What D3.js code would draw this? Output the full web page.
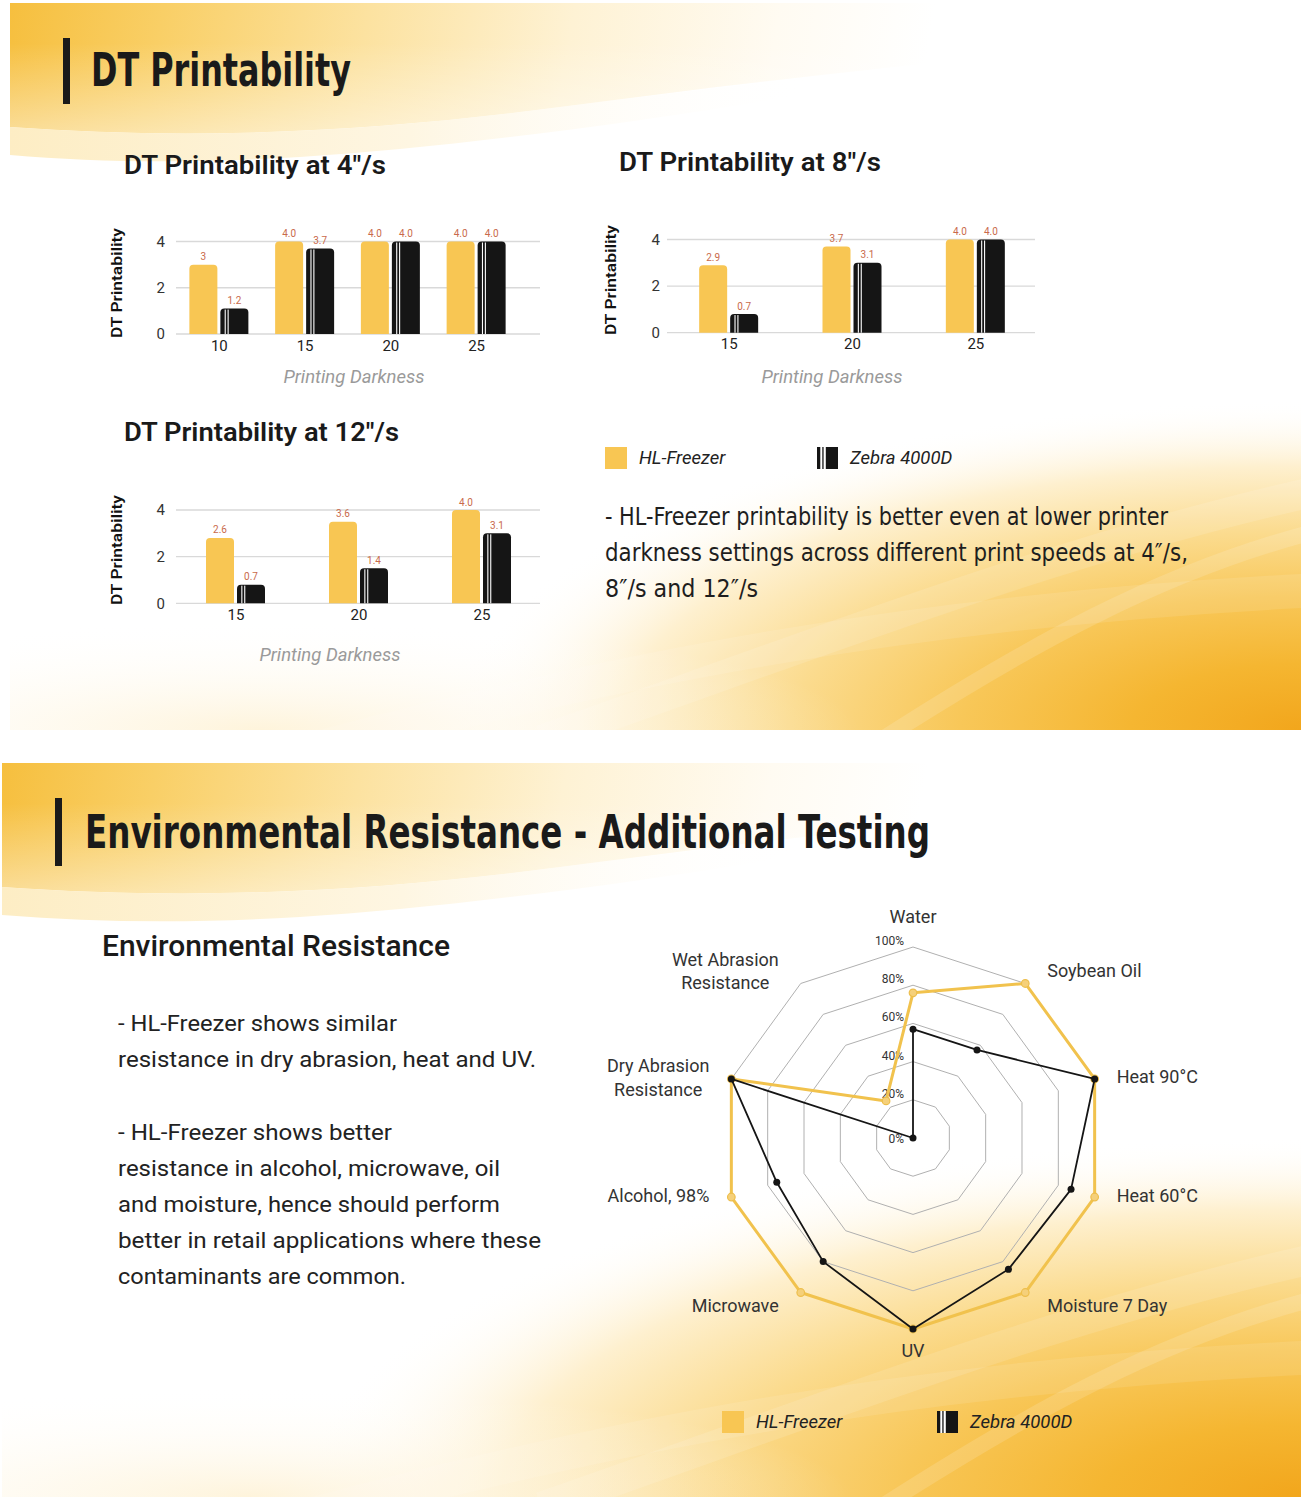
<!DOCTYPE html>
<html><head><meta charset="utf-8">
<script src="https://cdn.jsdelivr.net/npm/d3@7"></script>
<style>html,body{margin:0;padding:0;background:#fff;} svg{display:block;}</style>
</head><body>
<svg id="chart" width="1309" height="1500" xmlns="http://www.w3.org/2000/svg"></svg>
<script>
// ---------------- DATA ----------------
const seriesNames = ["HL-Freezer", "Zebra 4000D"];
const yTicks = [0, 2, 4];

const darkness4 = ["10", "15", "20", "25"];
const hl4 = [3.0, 4.0, 4.0, 4.0];
const zebra4 = [1.1, 3.7, 4.0, 4.0];
const hl4Text = ["3", "4.0", "4.0", "4.0"];
const zebra4Text = ["1.2", "3.7", "4.0", "4.0"];

const darkness8 = ["15", "20", "25"];
const hl8 = [2.9, 3.7, 4.0];
const zebra8 = [0.8, 3.0, 4.0];
const hl8Text = ["2.9", "3.7", "4.0"];
const zebra8Text = ["0.7", "3.1", "4.0"];

const darkness12 = ["15", "20", "25"];
const hl12 = [2.8, 3.5, 4.0];
const zebra12 = [0.8, 1.5, 3.0];
const hl12Text = ["2.6", "3.6", "4.0"];
const zebra12Text = ["0.7", "1.4", "3.1"];

const radarAxes = ["Water", "Soybean Oil", "Heat 90°C", "Heat 60°C", "Moisture 7 Day", "UV", "Microwave", "Alcohol, 98%", "Dry Abrasion\nResistance", "Wet Abrasion\nResistance"];
const radarHL = [76, 100, 100, 100, 100, 100, 100, 100, 100, 24];
const radarZebra = [57, 57, 100, 87, 85, 100, 80, 75, 100, 0];
const radarTicks = [0, 20, 40, 60, 80, 100];

const topNote = ["- HL-Freezer printability is better even at lower printer",
                 "darkness settings across different print speeds at 4″/s,",
                 "8″/s and 12″/s"];
const envNote1 = ["- HL-Freezer shows similar", "resistance in dry abrasion, heat and UV."];
const envNote2 = ["- HL-Freezer shows better", "resistance in alcohol, microwave, oil",
                  "and moisture, hence should perform", "better in retail applications where these",
                  "contaminants are common."];

// ---------------- STYLE ----------------
const YEL = "#F8C653", BLK = "#151515";
const NARROW = "'Liberation Sans Narrow','DejaVu Sans Condensed',Roboto,sans-serif";
const SANS = "Roboto,'Noto Sans',sans-serif";

const svg = d3.select("#chart");
const defs = svg.append("defs");

function linGrad(id, x1, y1, x2, y2, stops) {
  const g = defs.append("linearGradient").attr("id", id).attr("gradientUnits", "userSpaceOnUse")
    .attr("x1", x1).attr("y1", y1).attr("x2", x2).attr("y2", y2);
  stops.forEach(s => g.append("stop").attr("offset", s[0]).attr("stop-color", s[1]).attr("stop-opacity", s[2] === undefined ? 1 : s[2]));
}
function radGrad(id, cx, cy, rx, ry, stops) {
  const g = defs.append("radialGradient").attr("id", id).attr("gradientUnits", "userSpaceOnUse")
    .attr("cx", 0).attr("cy", 0).attr("r", 1)
    .attr("gradientTransform", `translate(${cx},${cy}) scale(${rx},${ry})`);
  stops.forEach(s => g.append("stop").attr("offset", s[0]).attr("stop-color", s[1]).attr("stop-opacity", s[2] === undefined ? 1 : s[2]));
}

// ---------------- BACKGROUNDS ----------------
function section(id, x, oy, w, h, rx, ry) {
  defs.append("clipPath").attr("id", "clip" + id).append("rect").attr("x", x).attr("y", oy).attr("width", w).attr("height", h);
  const g = svg.append("g").attr("clip-path", `url(#clip${id})`);
  g.append("rect").attr("x", x).attr("y", oy).attr("width", w).attr("height", h).attr("fill", "#fff");
  linGrad("top" + id, x, oy, x + 1000, oy + 170, [[0, "#F6BF3E"], [0.15, "#F9CF66"], [0.35, "#FCE2A0"], [0.55, "#FEF2D4"], [0.75, "#FFFBF2"], [0.9, "#FFFFFF"]]);
  linGrad("fade" + id, 0, oy + 40, 0, oy + 150, [[0, "#FFFFFF", 0], [1, "#FFFFFF", 0.55]]);
  linGrad("pale" + id, x, oy, x + 800, oy, [[0, "#FDEDC4"], [0.5, "#FEF6E2"], [1, "#FFFFFF", 0]]);
  const band = `M${x},${oy} H${x + w} V${oy + 30} C1050,${oy + 45} 800,${oy + 72} 560,${oy + 104} C380,${oy + 128} 200,${oy + 138} ${x},${oy + 124} Z`;
  g.append("path").attr("fill", `url(#top${id})`).attr("d", band);
  g.append("path").attr("fill", `url(#fade${id})`).attr("d", band);
  g.append("path").attr("fill", `url(#pale${id})`)
    .attr("d", `M${x},${oy + 124} C200,${oy + 138} 380,${oy + 128} 560,${oy + 104} C700,${oy + 86} 850,${oy + 70} 1000,${oy + 56} C800,${oy + 96} 500,${oy + 142} 300,${oy + 154} C200,${oy + 160} 100,${oy + 160} ${x},${oy + 152} Z`);
  radGrad("corner" + id, x + w, oy + h, rx, ry, [[0, "#F2A61C"], [0.2, "#F5B631"], [0.4, "#F8C758"], [0.6, "#FBDB8E"], [0.8, "#FEF0CF"], [1, "#FFFFFF", 0]]);
  g.append("rect").attr("x", x).attr("y", oy).attr("width", w).attr("height", h).attr("fill", `url(#corner${id})`);
  radGrad("glow" + id, x + 250, oy + h, 600, 110, [[0, "#FEF1D2", 0.8], [1, "#FFFFFF", 0]]);
  g.append("rect").attr("x", x).attr("y", oy).attr("width", w).attr("height", h).attr("fill", `url(#glow${id})`);
  // light streaks
  const sy = oy + h;
  [[`M${x + w - 760},${sy + 10} C${x + w - 500},${sy - 80} ${x + w - 250},${sy - 180} ${x + w + 20},${sy - 240}`, 30, 0.12],
   [`M${x + w - 420},${sy + 10} C${x + w - 280},${sy - 80} ${x + w - 140},${sy - 160} ${x + w + 20},${sy - 200}`, 16, 0.14],
   [`M${x + 300},${sy + 20} C${x + 600},${sy - 60} ${x + 900},${sy - 120} ${x + w + 20},${sy - 140}`, 34, 0.1]]
    .forEach(s => g.append("path").attr("d", s[0]).attr("fill", "none").attr("stroke", "#fff").attr("stroke-width", s[1]).attr("stroke-opacity", s[2]));
}
section("A", 10, 3, 1291, 727, 850, 330);
section("B", 2, 763, 1299, 734, 1000, 360);

// ---------------- TITLES ----------------
function mainTitle(barX, barY, barH, tx, ty, txt, len) {
  svg.append("rect").attr("x", barX).attr("y", barY).attr("width", 7).attr("height", barH).attr("fill", "#1a1a1a");
  svg.append("text").attr("x", tx).attr("y", ty).attr("dominant-baseline", "central")
    .attr("font-family", NARROW).attr("font-weight", 700).attr("font-size", 46).attr("fill", "#1a1a1a")
    .attr("textLength", len).attr("lengthAdjust", "spacingAndGlyphs").text(txt);
}
mainTitle(63, 38, 66, 91, 70, "DT Printability", 260);
mainTitle(55, 798, 68, 85, 832, "Environmental Resistance - Additional Testing", 845);

// ---------------- BAR CHARTS ----------------
function topRounded(x, y, w, h, r) {
  r = Math.max(0, Math.min(r, h, w / 2));
  return `M${x},${y + h}V${y + r}Q${x},${y} ${x + r},${y}H${x + w - r}Q${x + w},${y} ${x + w},${y + r}V${y + h}Z`;
}
function zebraIcon(g, x, y, w, h) {
  g.append("rect").attr("x", x).attr("y", y).attr("width", w).attr("height", h).attr("fill", BLK);
  g.append("rect").attr("x", x + 3.3).attr("y", y).attr("width", 2).attr("height", h).attr("fill", "#fff");
  g.append("rect").attr("x", x + 6.6).attr("y", y).attr("width", 2.2).attr("height", h).attr("fill", "#fff");
}

const charts = [
  {cats: darkness4, hl: hl4, zb: zebra4, hlT: hl4Text, zbT: zebra4Text, title: "DT Printability at 4″/s",
   titleX: 124, titleY: 165, titleW: 262, x0: 176, x1: 519, gx0: 176, gx1: 540, y0: 334, y4: 241.5,
   tickX: 165, yTitleX: 117, yTitleY: 283, xTitleX: 354, xTitleY: 377},
  {cats: darkness8, hl: hl8, zb: zebra8, hlT: hl8Text, zbT: zebra8Text, title: "DT Printability at 8″/s",
   titleX: 619, titleY: 162, titleW: 262, x0: 667, x1: 1037, gx0: 667, gx1: 1035, y0: 332.7, y4: 239.5,
   tickX: 660, yTitleX: 611, yTitleY: 280, xTitleX: 832, xTitleY: 377},
  {cats: darkness12, hl: hl12, zb: zebra12, hlT: hl12Text, zbT: zebra12Text, title: "DT Printability at 12″/s",
   titleX: 124, titleY: 432, titleW: 275, x0: 174, x1: 543, gx0: 176, gx1: 540, y0: 603.3, y4: 510,
   tickX: 165, yTitleX: 117, yTitleY: 550, xTitleX: 330, xTitleY: 655}
];

charts.forEach(c => {
  const g = svg.append("g");
  const y = d3.scaleLinear().domain([0, 4]).range([c.y0, c.y4]);
  const x = d3.scalePoint().domain(c.cats).range([c.x0, c.x1]).padding(0.5);
  const xs = d3.scaleBand().domain(seriesNames).range([0, 59]).paddingInner(3 / 31);

  g.append("text").attr("x", c.titleX).attr("y", c.titleY).attr("dominant-baseline", "central")
    .attr("font-family", SANS).attr("font-weight", 600).attr("font-size", 25).attr("fill", "#1a1a1a")
    .attr("textLength", c.titleW).attr("lengthAdjust", "spacingAndGlyphs").text(c.title);

  g.selectAll("line.grid").data(yTicks).join("line").attr("class", "grid")
    .attr("x1", c.gx0).attr("x2", c.gx1).attr("y1", d => y(d)).attr("y2", d => y(d))
    .attr("stroke", "#d9d9d9").attr("stroke-width", 1.3);

  const ya = g.append("g").attr("transform", `translate(${c.tickX},0)`)
    .call(d3.axisLeft(y).tickValues(yTicks).tickSize(0).tickPadding(0).tickFormat(d3.format("d")));
  ya.select(".domain").remove();
  ya.selectAll("text").attr("font-family", SANS).attr("font-size", 15).attr("fill", "#333");

  const xa = g.append("g").attr("transform", `translate(0,${c.y0})`)
    .call(d3.axisBottom(x).tickSize(0).tickPadding(6));
  xa.select(".domain").remove();
  xa.selectAll("text").attr("font-family", SANS).attr("font-size", 15).attr("fill", "#222");

  const rows = c.cats.map((cat, i) => ({cat, vals: [c.hl[i], c.zb[i]], txt: [c.hlT[i], c.zbT[i]]}));
  rows.forEach(r => {
    const gx = x(r.cat) - 29.5;
    seriesNames.forEach((s, k) => {
      const bx = gx + xs(s), bw = xs.bandwidth(), by = y(r.vals[k]), bh = c.y0 - by;
      if (k === 0) {
        g.append("path").attr("d", topRounded(bx, by, bw, bh, 4)).attr("fill", YEL);
      } else {
        g.append("path").attr("d", topRounded(bx, by, bw, bh, 4)).attr("fill", BLK);
        g.append("rect").attr("x", bx + 4.3).attr("y", by + 1).attr("width", 1.1).attr("height", bh - 1).attr("fill", "#fff");
        g.append("rect").attr("x", bx + 7.2).attr("y", by + 1).attr("width", 1.1).attr("height", bh - 1).attr("fill", "#fff");
      }
      g.append("text").attr("x", bx + bw / 2).attr("y", by - 8).attr("text-anchor", "middle").attr("dominant-baseline", "central")
        .attr("font-family", SANS).attr("font-size", 10).attr("fill", "#C96A4B").text(r.txt[k]);
    });
  });

  g.append("text").attr("transform", `translate(${c.yTitleX},${c.yTitleY}) rotate(-90)`)
    .attr("text-anchor", "middle").attr("dominant-baseline", "central")
    .attr("font-family", SANS).attr("font-weight", 600).attr("font-size", 15).attr("fill", "#111")
    .attr("textLength", 110).attr("lengthAdjust", "spacingAndGlyphs").text("DT Printability");

  g.append("text").attr("x", c.xTitleX).attr("y", c.xTitleY).attr("text-anchor", "middle").attr("dominant-baseline", "central")
    .attr("font-family", SANS).attr("font-style", "italic").attr("font-size", 18.5).attr("fill", "#9a9a9a")
    .text("Printing Darkness");
});

// ---------------- LEGENDS ----------------
function legend(x, zx, cy) {
  const g = svg.append("g");
  g.append("rect").attr("x", x).attr("y", cy - 11).attr("width", 22).attr("height", 22).attr("fill", YEL);
  g.append("text").attr("x", x + 34).attr("y", cy).attr("dominant-baseline", "central")
    .attr("font-family", SANS).attr("font-style", "italic").attr("font-size", 18.5).attr("fill", "#222").text(seriesNames[0]);
  zebraIcon(g, zx, cy - 11, 21, 22);
  g.append("text").attr("x", zx + 33).attr("y", cy).attr("dominant-baseline", "central")
    .attr("font-family", SANS).attr("font-style", "italic").attr("font-size", 18.5).attr("fill", "#222").text(seriesNames[1]);
}
legend(605, 817, 458);
legend(722, 937, 1422);

// ---------------- PARAGRAPHS ----------------
const topW = [563, 583, 153];
topNote.forEach((t, i) => svg.append("text").attr("x", 605).attr("y", 516 + i * 36).attr("dominant-baseline", "central")
  .attr("font-family", NARROW).attr("font-size", 25).attr("fill", "#1e1e1e")
  .attr("textLength", topW[i]).attr("lengthAdjust", "spacingAndGlyphs").text(t));

svg.append("text").attr("x", 102).attr("y", 946).attr("dominant-baseline", "central")
  .attr("font-family", SANS).attr("font-weight", 500).attr("font-size", 29).attr("fill", "#1a1a1a")
  .attr("textLength", 348).attr("lengthAdjust", "spacingAndGlyphs").text("Environmental Resistance");

const env1W = [279, 418], env2W = [274, 382, 382, 423, 288];
envNote1.forEach((t, i) => svg.append("text").attr("x", 118).attr("y", 1023 + i * 36).attr("dominant-baseline", "central")
  .attr("font-family", SANS).attr("font-size", 22).attr("fill", "#222")
  .attr("textLength", env1W[i]).attr("lengthAdjust", "spacingAndGlyphs").text(t));
envNote2.forEach((t, i) => svg.append("text").attr("x", 118).attr("y", 1132 + i * 36).attr("dominant-baseline", "central")
  .attr("font-family", SANS).attr("font-size", 22).attr("fill", "#222")
  .attr("textLength", env2W[i]).attr("lengthAdjust", "spacingAndGlyphs").text(t));

// ---------------- RADAR ----------------
const RC = {cx: 913, cy: 1138, r: 191};
const rScale = d3.scaleLinear().domain([0, 100]).range([0, RC.r]);
const nAx = radarAxes.length;
const angle = i => i * 2 * Math.PI / nAx;
const rg = svg.append("g").attr("transform", `translate(${RC.cx},${RC.cy})`);
const ringLine = d3.lineRadial().angle((d, i) => angle(i)).radius(d => rScale(d)).curve(d3.curveLinearClosed);

radarTicks.filter(t => t > 0).forEach(t =>
  rg.append("path").attr("d", ringLine(radarAxes.map(() => t))).attr("fill", "none").attr("stroke", "#b0b0b0").attr("stroke-width", 1));

radarTicks.forEach(t => rg.append("text").attr("x", -9).attr("y", t > 0 ? -rScale(t) - 6 : 1)
  .attr("text-anchor", "end").attr("dominant-baseline", "central")
  .attr("font-family", SANS).attr("font-size", 12).attr("fill", "#333").text(t + "%"));

const px = (v, i) => rScale(v) * Math.sin(angle(i));
const py = (v, i) => -rScale(v) * Math.cos(angle(i));

rg.append("path").attr("d", ringLine(radarHL)).attr("fill", "none").attr("stroke", "#F1C24D").attr("stroke-width", 3).attr("stroke-linejoin", "round");
rg.selectAll("circle.hl").data(radarHL).join("circle").attr("class", "hl")
  .attr("cx", (d, i) => px(d, i)).attr("cy", (d, i) => py(d, i)).attr("r", 3.8)
  .attr("fill", "#F5D07A").attr("stroke", "#EDBE4C").attr("stroke-width", 1.2);

rg.append("path").attr("d", ringLine(radarZebra)).attr("fill", "none").attr("stroke", "#151515").attr("stroke-width", 1.8).attr("stroke-linejoin", "round");
rg.selectAll("circle.zb").data(radarZebra).join("circle").attr("class", "zb")
  .attr("cx", (d, i) => px(d, i)).attr("cy", (d, i) => py(d, i)).attr("r", 3.5).attr("fill", "#151515");

radarAxes.forEach((lab, i) => {
  const a = angle(i), s = Math.sin(a), co = Math.cos(a);
  const vx = RC.r * s, vy = -RC.r * co;
  const lines = lab.split("\n");
  const t = rg.append("text").attr("font-family", SANS).attr("font-size", 18).attr("fill", "#333")
    .attr("dominant-baseline", "central");
  let lx, ly, anchor;
  if (Math.abs(s) < 0.1) {
    anchor = "middle"; lx = vx; ly = vy + (co > 0 ? -31 : 21);
  } else {
    anchor = s > 0 ? "start" : "end"; lx = vx + (s > 0 ? 22 : -22);
    ly = vy + (Math.abs(co) > 0.5 ? -16 * co : -2);
  }
  if (lines.length === 1) {
    t.attr("x", lx).attr("y", ly).attr("text-anchor", anchor).text(lab);
  } else {
    t.attr("text-anchor", "middle");
    lines.forEach((ln, k) => t.append("tspan").attr("x", 0).attr("y", ly + (k - (lines.length - 1) / 2) * 23.5).text(ln));
    const wdt = t.node().getBBox().width;
    const cxl = s > 0 ? lx + wdt / 2 : lx - wdt / 2;
    t.selectAll("tspan").attr("x", cxl);
  }
});
</script>
</body></html>
